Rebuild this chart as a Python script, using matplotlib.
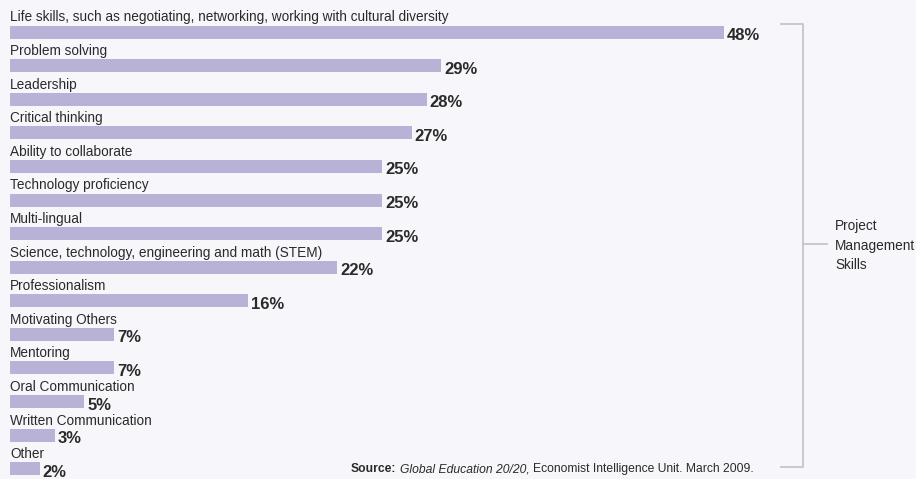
import matplotlib.pyplot as plt

skills = [
    "Life skills, such as negotiating, networking, working with cultural diversity",
    "Problem solving",
    "Leadership",
    "Critical thinking",
    "Ability to collaborate",
    "Technology proficiency",
    "Multi-lingual",
    "Science, technology, engineering and math (STEM)",
    "Professionalism",
    "Motivating Others",
    "Mentoring",
    "Oral Communication",
    "Written Communication",
    "Other",
]
percents = [48, 29, 28, 27, 25, 25, 25, 22, 16, 7, 7, 5, 3, 2]

bracket_label = "Project\nManagement\nSkills"
source_parts = [
    ("Source:", "bold", "normal"),
    ("Global Education 20/20,", "normal", "italic"),
    ("Economist Intelligence Unit. March 2009.", "normal", "normal"),
]


def main():
    width = 916
    height = 479
    ppi = 100
    bg = "#f7f7fb"
    bar_color = "#b8b2d7"
    line_color = "#c6c6c8"
    text_color = "#2a2a2a"

    plt.rcParams["font.family"] = ["Liberation Sans", "DejaVu Sans"]

    fig = plt.figure(figsize=(width / ppi, height / ppi), dpi=ppi, facecolor=bg)
    ax = fig.add_axes([0, 0, 1, 1])
    ax.set_facecolor(bg)
    ax.axis("off")

    # pixel layout: 0% at x=10px, 14.875 px per percent, rows every 33.6 px
    px_per_pct = 14.875
    row_h = 33.6
    first_center = 32
    ax.set_xlim(-10 / px_per_pct, (width - 10) / px_per_pct)
    ax.set_ylim((height - first_center) / row_h, -first_center / row_h)

    bar_h = 13 / row_h
    rows = list(range(len(skills)))
    ax.barh(rows, percents, height=bar_h, color=bar_color, left=0)

    for i, (name, p) in enumerate(zip(skills, percents)):
        ax.text(0, i - bar_h / 2 - 4 / row_h, name, fontsize=9.85, color=text_color,
                va="baseline", ha="left")
        ax.text(p + 3 / px_per_pct, i + bar_h / 2 + 1.5 / row_h, f"{p}%", fontsize=12,
                fontweight="bold", color=text_color, va="baseline", ha="left")

    # bracket on the right
    bx = (803 - 10) / px_per_pct
    tick = 22 / px_per_pct
    top = (24 - first_center) / row_h
    bottom = (467 - first_center) / row_h
    ax.plot([bx - tick, bx, bx, bx - tick], [top, top, bottom, bottom],
            color=line_color, lw=1.3)
    mid = (244 - first_center) / row_h
    ax.plot([bx, bx + 24 / px_per_pct], [mid, mid], color=line_color, lw=1.3)
    ax.text(bx + 32 / px_per_pct, mid + 2 / row_h, bracket_label, fontsize=9.85,
            color=text_color, va="center", ha="left", linespacing=1.5)

    # source note, pieces laid out one after another on a shared baseline
    renderer = fig.canvas.get_renderer()
    x_px = 351
    y_fig = 1 - 472 / height
    for txt, weight, style in source_parts:
        t = fig.text(x_px / width, y_fig, txt, fontsize=8.7, fontweight=weight,
                     style=style, color=text_color, va="baseline", ha="left")
        x_px += t.get_window_extent(renderer).width + 3.5

    plt.savefig("out.png", dpi=ppi, facecolor=bg)


if __name__ == "__main__":
    main()
